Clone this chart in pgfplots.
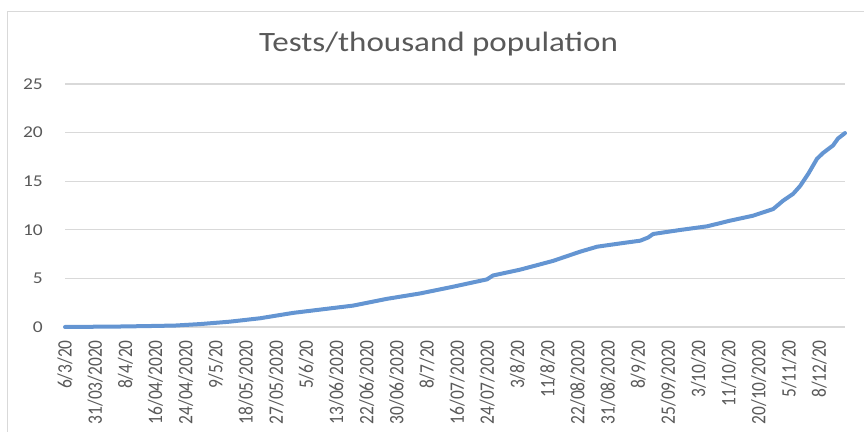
\documentclass[border=0pt]{standalone}
\usepackage{pgfplots}
\pgfplotsset{compat=1.18}
\usepackage{fontspec}
\setmainfont{Carlito}
\newfontfamily\xtickfont[FakeStretch=0.85]{Carlito}
\newfontfamily\ytickfont[FakeStretch=1.18]{Carlito}
\definecolor{txtgray}{HTML}{595959}
\definecolor{gridgray}{HTML}{D9D9D9}
\definecolor{linebl}{HTML}{6495D2}

\begin{document}
\begin{tikzpicture}
\useasboundingbox (0,0) rectangle (864bp,432bp);
% chart area frame (cut by the page on the right and bottom)
\draw[gridgray, line width=1bp] (7bp,-20bp) -- (7bp,420bp) -- (900bp,420bp);

\begin{axis}[%
at={(65bp,105bp)},
anchor=south west,
width=780bp,
height=243bp,
scale only axis,
xmin=0,
xmax=25.86,
ymin=0,
ymax=25,
ytick={0,5,...,25},
xtick={0,1,...,25},
xticklabels={6/3/20,31/03/2020,8/4/20,16/04/2020,24/04/2020,9/5/20,18/05/2020,27/05/2020,5/6/20,13/06/2020,22/06/2020,30/06/2020,8/7/20,16/07/2020,24/07/2020,3/8/20,11/8/20,22/08/2020,31/08/2020,8/9/20,25/09/2020,3/10/20,11/10/20,20/10/2020,5/11/20,8/12/20},
/pgf/number format/assume math mode=true,
xticklabel style={rotate=90, anchor=east, inner sep=0pt, xshift=-13bp, font=\xtickfont\fontsize{20.5bp}{22bp}\selectfont, text=txtgray},
yticklabel style={anchor=east, inner sep=0pt, xshift=-22bp, font=\ytickfont\fontsize{16.5bp}{20bp}\selectfont, text=txtgray},
major tick length=0pt,
ymajorgrids,
grid style={gridgray, line width=1.2bp},
axis line style={draw=none},
axis x line*=bottom,
axis y line*=left,
title={\scalebox{1.18}[1]{\fontsize{28bp}{32bp}\selectfont Tests/thousand population}},
title style={at={(0.479,1)}, anchor=base, yshift=27bp, text=txtgray, inner sep=0pt},
clip=false
]
\draw[gridgray, line width=1.2bp] (axis cs:0,0) -- (axis cs:25.86,0);
\addplot[color=linebl, line width=4bp, line join=round, line cap=round] coordinates {
(0,0) (1.82,0.05) (2.82,0.1) (3.65,0.15) (4.48,0.3) (5.47,0.55) (6.47,0.9)
(7.56,1.45) (8.22,1.7) (9.55,2.2) (10.68,2.9) (11.77,3.45) (12.86,4.14)
(13.99,4.9) (14.19,5.3) (15.09,5.9) (16.18,6.8) (17.08,7.75) (17.64,8.26)
(18.5,8.64) (19.07,8.88) (19.33,9.2) (19.5,9.57) (20.39,9.98) (21.29,10.36)
(22.05,10.94) (22.81,11.45) (23.48,12.14) (23.81,13.0) (24.14,13.7) (24.37,14.5)
(24.64,15.75) (24.93,17.3) (25.13,17.9) (25.46,18.67) (25.63,19.4) (25.86,19.95)
};
\end{axis}
\end{tikzpicture}
\end{document}
